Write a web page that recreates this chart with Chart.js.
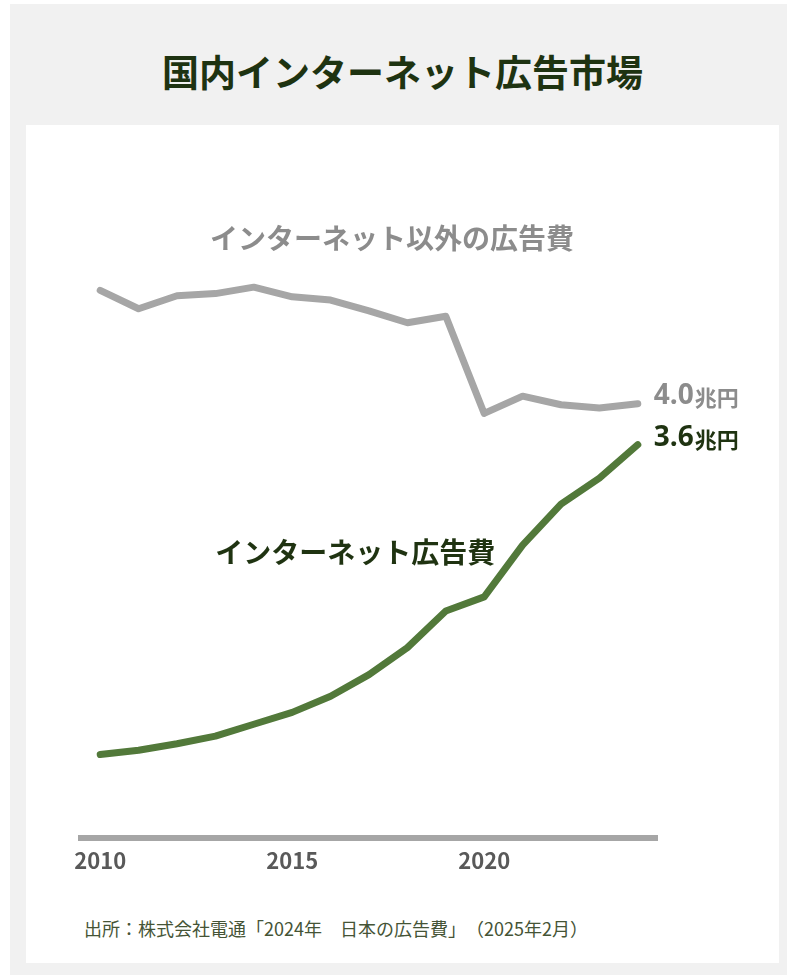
<!DOCTYPE html>
<html lang="ja">
<head>
<meta charset="utf-8">
<title>国内インターネット広告市場</title>
<script src="https://cdn.jsdelivr.net/npm/chart.js@4.4.1/dist/chart.umd.min.js"></script>
<style>
  html, body { margin: 0; padding: 0; background: #fff; }
  .frame {
    position: absolute; left: 10px; top: 4px; width: 777px; height: 971px;
    background: #f1f1f1;
  }
  .frame h1 {
    position: absolute; left: 16px; width: 753px; top: 40px; margin: 0;
    text-align: center; font: bold 37px "Noto Sans CJK JP", sans-serif; color: #1e3311;
  }
  .card {
    position: absolute; left: 16px; top: 121px; width: 753px; height: 838px;
    background: #fff;
  }
  .card canvas { position: absolute; left: 0; top: 0; }
  .source {
    position: absolute; left: 58px; top: 790px;
    font: 18px "Noto Sans CJK JP", sans-serif; color: #455436;
    text-spacing-trim: space-all;
  }
</style>
</head>
<body>
<div class="frame">
  <h1>国内インターネット広告市場</h1>
  <div class="card">
    <canvas id="chart" width="753" height="759"></canvas>
    <div class="source">出所：株式会社電通「2024年　日本の広告費」（2025年2月）</div>
  </div>
</div>
<script>
// 単位：兆円
const years = ['2010', '2011', '2012', '2013', '2014', '2015', '2016', '2017',
               '2018', '2019', '2020', '2021', '2022', '2023', '2024'];
const internetAd = [0.77, 0.81, 0.87, 0.94, 1.05, 1.16, 1.31, 1.51,
                    1.76, 2.10, 2.23, 2.71, 3.09, 3.33, 3.64];
const otherAd = [5.07, 4.90, 5.02, 5.04, 5.10, 5.01, 4.98, 4.88,
                 4.77, 4.83, 3.93, 4.09, 4.01, 3.98, 4.02];
const tickYears = ['2010', '2015', '2020'];

const GREEN = '#52793a';
const GRAY = '#a6a6a6';
const JP = '"Noto Sans CJK JP", sans-serif';

// 系列名と末尾の値ラベル
const seriesLabels = {
  id: 'seriesLabels',
  afterDatasetsDraw(chart) {
    const { ctx, scales: { x, y } } = chart;
    ctx.save();
    ctx.textBaseline = 'middle';

    ctx.textAlign = 'center';
    ctx.font = `bold 28px ${JP}`;
    ctx.fillStyle = '#8c8c8c';
    ctx.fillText('インターネット以外の広告費', x.getPixelForValue(7.6), y.getPixelForValue(5.55));
    ctx.fillStyle = '#1f3311';
    ctx.fillText('インターネット広告費', x.getPixelForValue(6.64), y.getPixelForValue(2.64));

    ctx.textAlign = 'left';
    const last = years.length - 1;
    const ends = [
      { data: otherAd, color: '#8c8c8c', dy: -8 },
      { data: internetAd, color: '#1f3311', dy: -7 }
    ];
    ends.forEach(e => {
      const px = x.getPixelForValue(last) + 16;
      const py = y.getPixelForValue(e.data[last]) + e.dy;
      const num = e.data[last].toFixed(1);
      ctx.fillStyle = e.color;
      ctx.font = 'bold 28px "Open Sans", sans-serif';
      ctx.fillText(num, px, py);
      const w = ctx.measureText(num).width;
      ctx.font = `bold 22px ${JP}`;
      ctx.fillText('兆円', px + w + 1, py + 2);
    });
    ctx.restore();
  }
};

new Chart(document.getElementById('chart'), {
  type: 'line',
  data: {
    labels: years,
    datasets: [
      { data: otherAd, borderColor: GRAY },
      { data: internetAd, borderColor: GREEN }
    ]
  },
  options: {
    responsive: false,
    animation: false,
    layout: { padding: { top: 65, left: 55, right: 122, bottom: 0 } },
    elements: {
      line: { borderWidth: 7, tension: 0, borderCapStyle: 'round', borderJoinStyle: 'round' },
      point: { radius: 0 }
    },
    plugins: { legend: { display: false }, tooltip: { enabled: false } },
    scales: {
      x: {
        offset: true,
        grid: { display: false, drawTicks: false },
        border: { display: true, color: GRAY, width: 6 },
        ticks: {
          autoSkip: false,
          maxRotation: 0,
          padding: 10,
          color: '#595959',
          font: { family: JP, size: 22, weight: 'bold' },
          callback(value) {
            const label = this.getLabelForValue(value);
            return tickYears.includes(label) ? label : '';
          }
        }
      },
      y: { display: false, min: 0, max: 6 }
    }
  },
  plugins: [seriesLabels]
});
</script>
</body>
</html>
